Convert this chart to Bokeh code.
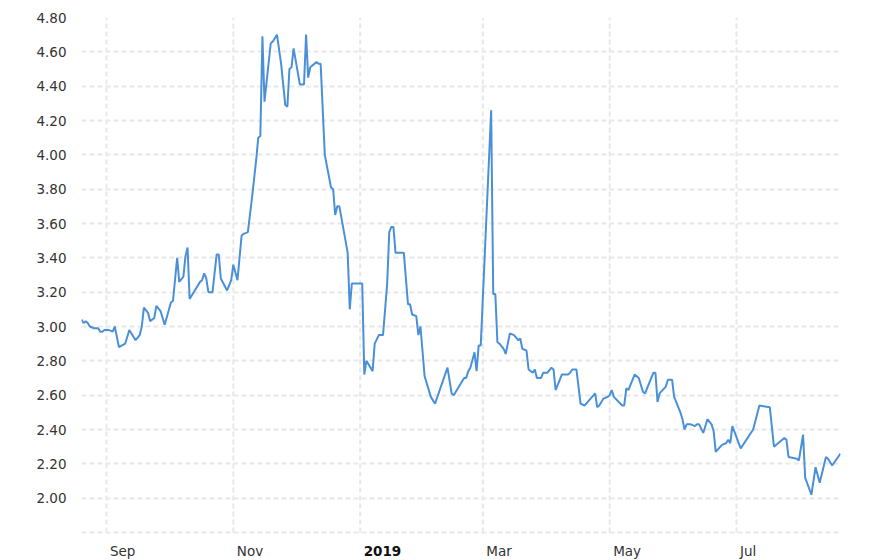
import pandas as pd
from bokeh.plotting import figure
from bokeh.models import Range1d, FixedTicker, NumeralTickFormatter, ColumnDataSource
from bokeh.core.properties import value
from bokeh.embed import file_html
from bokeh.resources import INLINE

# ---- data ----
dates = [
    "2018-08-20", "2018-08-21", "2018-08-22", "2018-08-23", "2018-08-24", "2018-08-26", "2018-08-28",
    "2018-08-29", "2018-08-30", "2018-08-31", "2018-09-02", "2018-09-04", "2018-09-05", "2018-09-07",
    "2018-09-10", "2018-09-12", "2018-09-15", "2018-09-17", "2018-09-18", "2018-09-19", "2018-09-21",
    "2018-09-22", "2018-09-24", "2018-09-25", "2018-09-27", "2018-09-29", "2018-10-02", "2018-10-03",
    "2018-10-05", "2018-10-06", "2018-10-08", "2018-10-09", "2018-10-10", "2018-10-11", "2018-10-14",
    "2018-10-16", "2018-10-17", "2018-10-18", "2018-10-19", "2018-10-20", "2018-10-22", "2018-10-24",
    "2018-10-25", "2018-10-26", "2018-10-29", "2018-10-31", "2018-11-01", "2018-11-03", "2018-11-05",
    "2018-11-06", "2018-11-08", "2018-11-10", "2018-11-12", "2018-11-13", "2018-11-14", "2018-11-15",
    "2018-11-16", "2018-11-19", "2018-11-20", "2018-11-22", "2018-11-24", "2018-11-26", "2018-11-27",
    "2018-11-28", "2018-11-29", "2018-11-30", "2018-12-03", "2018-12-05", "2018-12-06", "2018-12-07",
    "2018-12-08", "2018-12-11", "2018-12-12", "2018-12-13", "2018-12-15", "2018-12-18", "2018-12-19",
    "2018-12-20", "2018-12-21", "2018-12-22", "2018-12-26", "2018-12-27", "2018-12-28", "2019-01-02",
    "2019-01-03", "2019-01-04", "2019-01-07", "2019-01-08", "2019-01-10", "2019-01-12", "2019-01-14",
    "2019-01-15", "2019-01-16", "2019-01-17", "2019-01-18", "2019-01-22", "2019-01-24", "2019-01-25",
    "2019-01-26", "2019-01-28", "2019-01-29", "2019-01-30", "2019-02-01", "2019-02-04", "2019-02-06",
    "2019-02-12", "2019-02-14", "2019-02-15", "2019-02-20", "2019-02-21", "2019-02-22", "2019-02-23",
    "2019-02-25", "2019-02-26", "2019-02-27", "2019-02-28", "2019-03-05", "2019-03-06", "2019-03-07",
    "2019-03-08", "2019-03-09", "2019-03-11", "2019-03-12", "2019-03-14", "2019-03-16", "2019-03-18",
    "2019-03-19", "2019-03-20", "2019-03-22", "2019-03-23", "2019-03-25", "2019-03-26", "2019-03-27",
    "2019-03-29", "2019-03-30", "2019-04-01", "2019-04-03", "2019-04-04", "2019-04-05", "2019-04-08",
    "2019-04-09", "2019-04-11", "2019-04-12", "2019-04-13", "2019-04-15", "2019-04-17", "2019-04-19",
    "2019-04-24", "2019-04-25", "2019-04-26", "2019-04-28", "2019-04-30", "2019-05-01", "2019-05-02",
    "2019-05-03", "2019-05-07", "2019-05-08", "2019-05-09", "2019-05-10", "2019-05-13", "2019-05-15",
    "2019-05-17", "2019-05-18", "2019-05-22", "2019-05-23", "2019-05-24", "2019-05-25", "2019-05-28",
    "2019-05-29", "2019-05-31", "2019-06-01", "2019-06-04", "2019-06-05", "2019-06-06", "2019-06-07",
    "2019-06-09", "2019-06-11", "2019-06-12", "2019-06-13", "2019-06-15", "2019-06-17", "2019-06-19",
    "2019-06-20", "2019-06-21", "2019-06-24", "2019-06-26", "2019-06-27", "2019-06-28", "2019-06-29",
    "2019-07-03", "2019-07-09", "2019-07-12", "2019-07-17", "2019-07-19", "2019-07-24", "2019-07-25",
    "2019-07-26", "2019-07-30", "2019-07-31", "2019-08-02", "2019-08-03", "2019-08-06", "2019-08-08",
    "2019-08-10", "2019-08-13", "2019-08-14", "2019-08-16", "2019-08-20",
]
prices = [
    3.04, 3.02, 3.03, 3.02, 3.00, 2.99, 2.99,
    2.97, 2.97, 2.98, 2.98, 2.97, 3.00, 2.88,
    2.90, 2.98, 2.92, 2.95, 3.00, 3.11, 3.08,
    3.03, 3.05, 3.12, 3.09, 3.01, 3.14, 3.15,
    3.40, 3.26, 3.29, 3.41, 3.46, 3.16, 3.22,
    3.26, 3.27, 3.31, 3.28, 3.20, 3.20, 3.42,
    3.42, 3.28, 3.21, 3.27, 3.36, 3.27, 3.53,
    3.54, 3.55, 3.75, 3.97, 4.10, 4.11, 4.69,
    4.31, 4.65, 4.66, 4.70, 4.53, 4.29, 4.28,
    4.50, 4.51, 4.62, 4.41, 4.41, 4.70, 4.45,
    4.51, 4.54, 4.53, 4.53, 4.00, 3.81, 3.80,
    3.65, 3.70, 3.70, 3.43, 3.10, 3.25, 3.25,
    2.72, 2.80, 2.74, 2.90, 2.95, 2.95, 3.25,
    3.55, 3.58, 3.58, 3.43, 3.43, 3.13, 3.13,
    3.07, 3.06, 2.95, 3.00, 2.71, 2.59, 2.55,
    2.76, 2.61, 2.60, 2.70, 2.70, 2.74, 2.76,
    2.85, 2.74, 2.89, 2.89, 4.26, 3.19, 3.19,
    2.91, 2.90, 2.87, 2.84, 2.96, 2.95, 2.92,
    2.93, 2.87, 2.86, 2.75, 2.73, 2.75, 2.70,
    2.70, 2.73, 2.73, 2.76, 2.75, 2.63, 2.72,
    2.72, 2.72, 2.73, 2.75, 2.75, 2.55, 2.54,
    2.61, 2.53, 2.54, 2.58, 2.59, 2.60, 2.63,
    2.59, 2.54, 2.54, 2.64, 2.63, 2.72, 2.70,
    2.62, 2.61, 2.73, 2.73, 2.56, 2.61, 2.65,
    2.69, 2.69, 2.59, 2.50, 2.46, 2.40, 2.43,
    2.43, 2.42, 2.43, 2.43, 2.38, 2.46, 2.43,
    2.39, 2.27, 2.31, 2.32, 2.34, 2.32, 2.42,
    2.29, 2.40, 2.54, 2.53, 2.30, 2.35, 2.34,
    2.24, 2.23, 2.22, 2.37, 2.12, 2.02, 2.18,
    2.09, 2.24, 2.23, 2.19, 2.26,
]

x_start = "2018-08-20"
x_end = "2019-08-20"
y_min, y_max = 1.80, 4.80
y_ticks = [2.00, 2.20, 2.40, 2.60, 2.80, 3.00, 3.20, 3.40, 3.60, 3.80, 4.00, 4.20, 4.40, 4.60, 4.80]
y_grid = [1.80] + y_ticks
x_label_texts = ["Sep", "Nov", "2019", "Mar", "May", "Jul"]
x_label_dates = ["2018-09-01", "2018-11-01", "2019-01-01", "2019-03-01", "2019-05-01", "2019-07-01"]
x_label_styles = ["normal", "normal", "bold", "normal", "normal", "normal"]
x_label_colors = ["#333333", "#333333", "#111111", "#333333", "#333333", "#333333"]

FONT = "DejaVu Sans"
GRID = "#e8e8e8"
FS = "13.5px"

# frame: top at 4.80 (17px), 1.80 at 532px, frame continues to the bottom edge (560px)
px_per_unit = (532 - 17) / (y_max - y_min)
y_bottom = y_min - (560 - 532) / px_per_unit

p = figure(width=888, height=560, output_backend="svg", toolbar_location=None,
           x_axis_type="datetime",
           x_range=Range1d(pd.Timestamp(x_start), pd.Timestamp(x_end)),
           y_range=Range1d(y_bottom, y_max),
           min_border_left=81, min_border_right=48, min_border_top=17, min_border_bottom=0)
p.outline_line_color = None
p.background_fill_color = "white"
p.border_fill_color = "white"

# vertical grid lines (month boundaries), from 1.80 to 4.80
grid_src = ColumnDataSource(dict(x=pd.to_datetime(x_label_dates),
                                 y0=[y_min] * len(x_label_dates),
                                 y1=[y_max] * len(x_label_dates)))
p.segment(x0="x", y0="y0", x1="x", y1="y1", source=grid_src,
          line_color=GRID, line_width=2, line_dash="5 3")

src = ColumnDataSource(dict(x=pd.to_datetime(dates), y=prices))
p.line("x", "y", source=src, line_color="#4a90d9", line_width=2)

# x labels, left-aligned just right of each month boundary
lab_src = ColumnDataSource(dict(x=pd.to_datetime(x_label_dates), y=[y_min] * len(x_label_dates),
                                text=x_label_texts, style=x_label_styles, color=x_label_colors))
p.text(x="x", y="y", text="text", source=lab_src, x_offset=3.5, y_offset=18.5,
       text_align="left", text_baseline="middle",
       text_font=value(FONT), text_font_size=value(FS),
       text_font_style="style", text_color="color")

# axes
p.xaxis.visible = False
p.xgrid.visible = False
p.yaxis.ticker = FixedTicker(ticks=y_ticks)
p.yaxis.formatter = NumeralTickFormatter(format="0.00")
p.yaxis.axis_line_color = None
p.yaxis.major_tick_line_color = None
p.yaxis.minor_tick_line_color = None
p.yaxis.major_label_standoff = 9
p.yaxis.major_label_text_font = FONT
p.yaxis.major_label_text_font_size = FS
p.yaxis.major_label_text_color = "#333333"

p.ygrid.ticker = FixedTicker(ticks=y_grid)
p.ygrid.grid_line_color = GRID
p.ygrid.grid_line_width = 2
p.ygrid.grid_line_dash = "5 3"

open("out.html", "w").write(file_html(p, INLINE))
